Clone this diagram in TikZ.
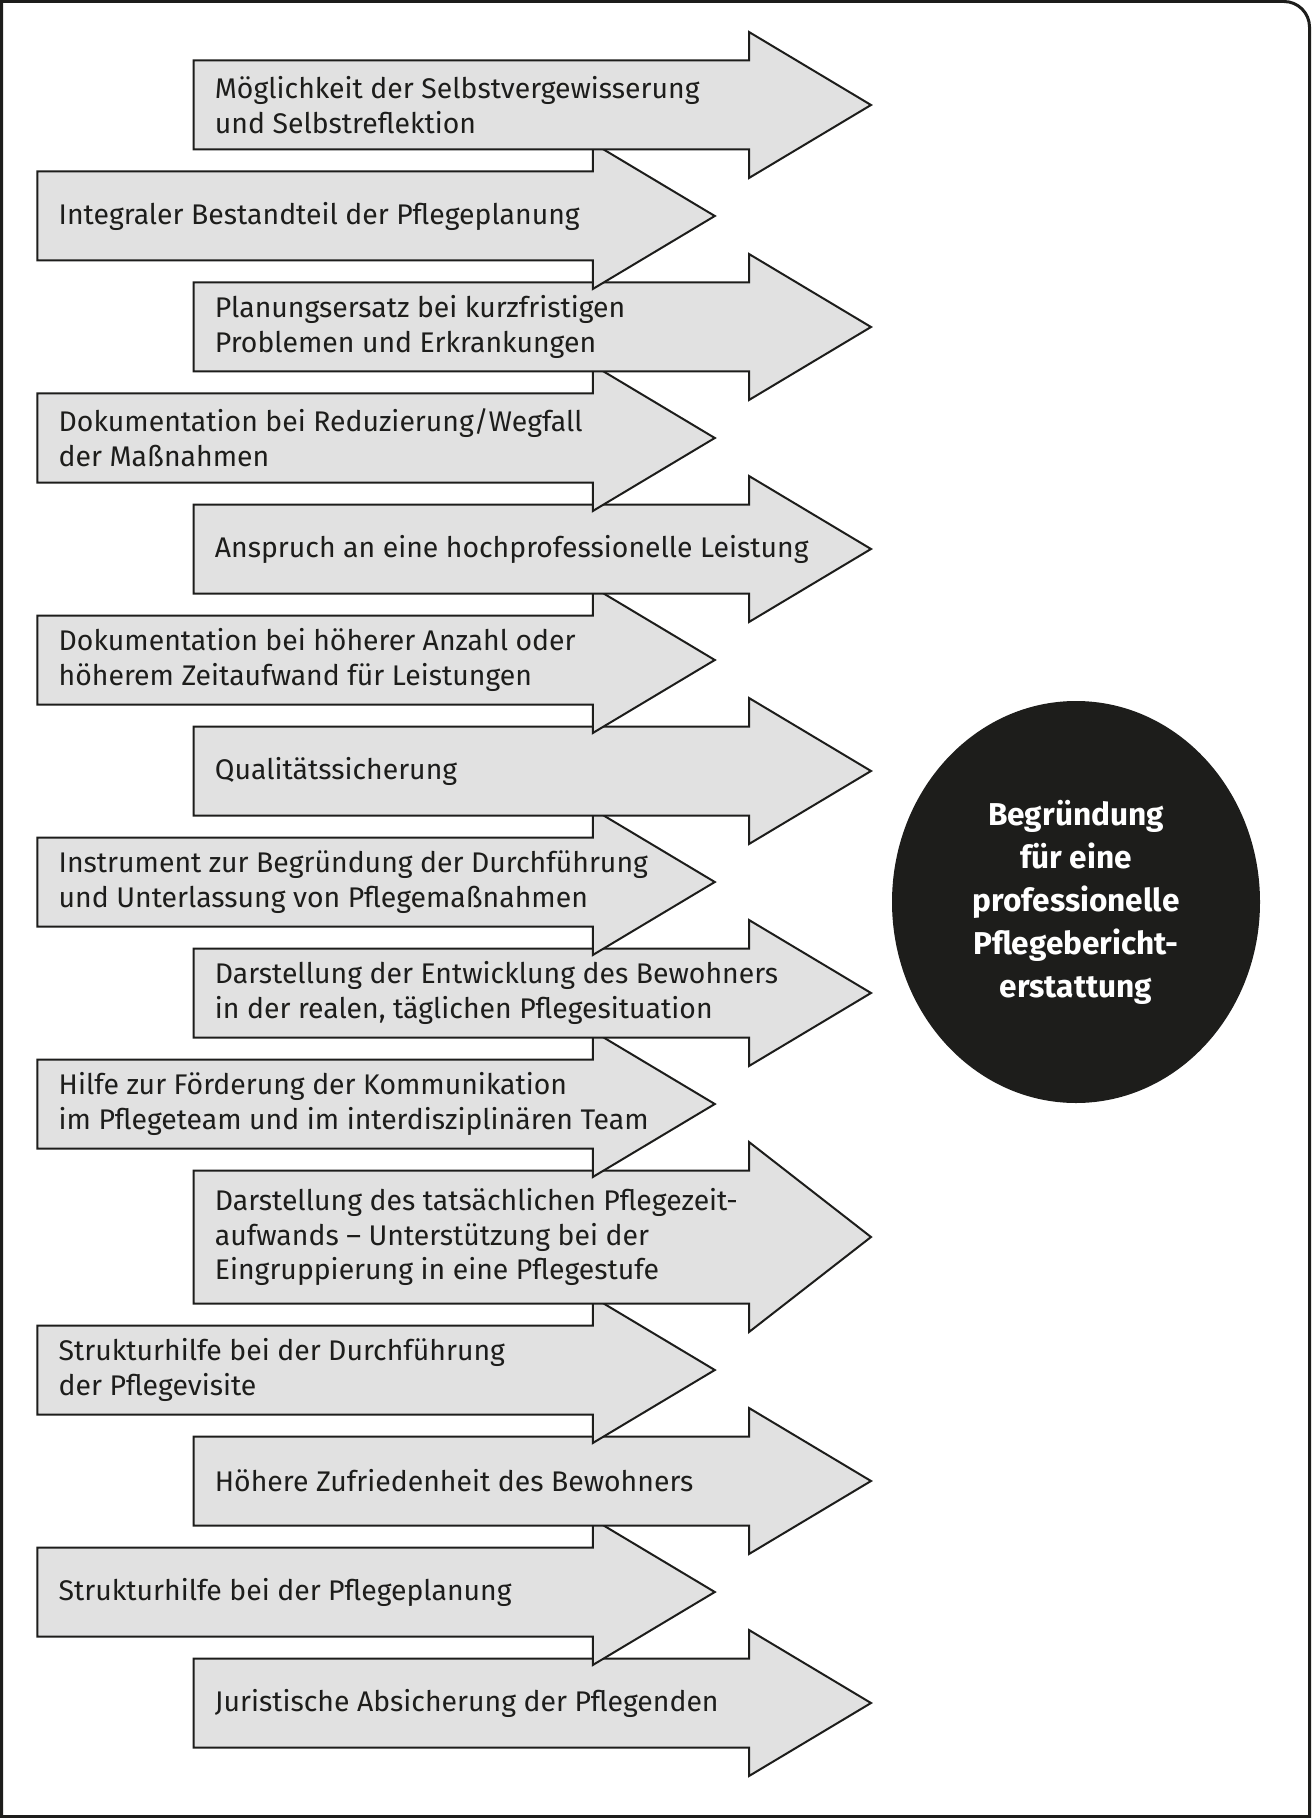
\documentclass[tikz,border=0pt]{standalone}
\usepackage{fontspec}
\setmainfont{Fira Sans}
\usetikzlibrary{shapes.geometric}
\definecolor{pfeilgrau}{HTML}{E1E1E1}
\definecolor{tinte}{HTML}{1D1D1B}
\tikzset{
  pfeil/.style={draw=tinte,fill=pfeilgrau,line width=1pt,line join=miter},
  pfeiltext/.style={anchor=west,inner sep=0pt,align=left,text=tinte,
    font=\fontsize{14.2}{17.4}\selectfont},
  kern/.style={ellipse,fill=tinte,minimum width=184pt,minimum height=201pt,
    inner sep=0pt,align=center,text=white,
    font=\fontsize{15.8}{21.5}\selectfont\bfseries},
}

\begin{document}
\begin{tikzpicture}[x=0.5pt,y=-0.5pt]
  \useasboundingbox(0,0)rectangle(1311,1818);
  % Rahmen, oben rechts abgerundet
  \draw[tinte,line width=1.5pt](1.5,1816.5)--(1.5,1.5)--(1284,1.5)
    .. controls (1298,1.5) and (1309.5,13) .. (1309.5,27)--(1309.5,1816.5)--cycle;
  % von unten nach oben, damit die oberen Pfeile oben liegen
  \foreach \n/\xl/\yt/\yb/\txt in {
    15/193.5/1658.5/1747.5/{Juristische Absicherung der Pflegenden},
    14/37.3/1547.5/1636.5/{Strukturhilfe bei der Pflegeplanung},
    13/193.5/1436.5/1525.5/{Höhere Zufriedenheit des Bewohners},
    12/37.3/1325.5/1414.5/{Strukturhilfe bei der Durchführung\\der Pflegevisite},
    11/193.5/1170.5/1303.5/{Darstellung des tatsächlichen Pflegezeit-\\aufwands – Unterstützung bei der\\Eingruppierung in eine Pflegestufe},
    10/37.3/1059.5/1148.5/{Hilfe zur Förderung der Kommunikation\\im Pflegeteam und im interdisziplinären Team},
    9/193.5/948.5/1037.5/{Darstellung der Entwicklung des Bewohners\\in der realen, täglichen Pflegesituation},
    8/37.3/837.5/926.5/{Instrument zur Begründung der Durchführung\\und Unterlassung von Pflegemaßnahmen},
    7/193.5/726.5/815.5/{Qualitätssicherung},
    6/37.3/615.5/704.5/{Dokumentation bei höherer Anzahl oder\\höherem Zeitaufwand für Leistungen},
    5/193.5/504.5/593.5/{Anspruch an eine hochprofessionelle Leistung},
    4/37.3/393.5/482.5/{Dokumentation bei Reduzierung/Wegfall\\der Maßnahmen},
    3/193.5/282.5/371.5/{Planungsersatz bei kurzfristigen\\Problemen und Erkrankungen},
    2/37.3/171.5/260.5/{Integraler Bestandteil der Pflegeplanung},
    1/193.5/60.5/149.5/{Möglichkeit der Selbstvergewisserung\\und Selbstreflektion}}
  {
    \draw[pfeil](\xl,\yt)--({\xl+555.5},\yt)--({\xl+555.5},{\yt-28.5})
      --({\xl+677.5},{(\yt+\yb)/2})--({\xl+555.5},{\yb+28.5})
      --({\xl+555.5},\yb)--(\xl,\yb)--cycle;
    \node[pfeiltext](t\n)at({\xl+21},{(\yt+\yb)/2}){\txt};
  }
  \node[kern](ziel)at(1076,902){Begründung\\für eine\\professionelle\\Pflegebericht-\\erstattung};
\end{tikzpicture}
\end{document}
